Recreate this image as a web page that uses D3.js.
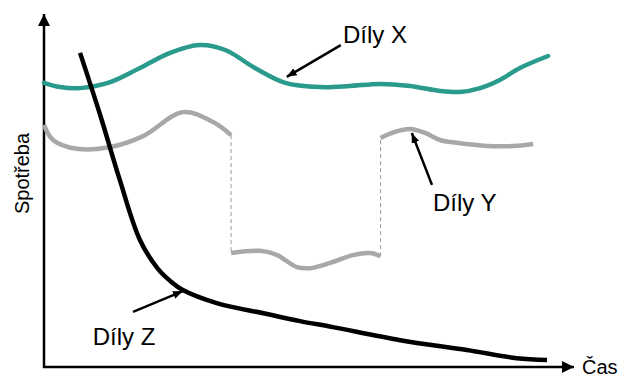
<!DOCTYPE html>
<html>
<head>
<meta charset="utf-8">
<script src="https://cdn.jsdelivr.net/npm/d3@7"></script>
<style>
  body { margin: 0; background: #fff; }
  svg { display: block; font-family: "Liberation Sans", Arial, sans-serif; }
</style>
</head>
<body>
<div id="chart"></div>
<script>
// values, time and consumption in 0-100 units
const dilyX = [[0,80.5],[3,79.3],[6.8,79],[12.5,80.7],[18.1,84.7],[23.8,89],[29.4,91.2],[34.2,89.8],[39.8,84.7],[45.5,80.5],[52.1,79.3],[57.7,79.6],[63.4,80.2],[69.1,79.6],[74.7,78.2],[78.5,77.9],[82.3,79],[86,81.3],[89.8,84.7],[95.1,88.1]]
const dilyY1 = [[0,68.6],[1.7,64.3],[6.2,61.8],[12.5,62.3],[18.7,65.4],[26.2,72.2],[31.9,69.4],[35.3,65.7]]
const dilyY2 = [[35.3,32.3],[40.8,32.9],[44,31.7],[47.7,28.3],[50.2,28],[54,29.5],[58.3,31.7],[61.5,32.3],[63.5,31.4]]
const dilyY3 = [[63.5,64.9],[66.2,66.6],[69.1,67.4],[71.9,66.3],[74.7,64.3],[77.9,63.5],[83.6,62.6],[88.5,62.6],[92.3,63.2]]
const dilyZ = [[6.8,89],[10.6,71.4],[14.3,53],[18.1,36],[21.5,27.8],[23.8,24.4],[26.2,21.8],[32.6,18.1],[42.1,15],[48.3,13],[54.5,11.3],[67.2,7.6],[79.8,4.8],[89.2,2.5],[94.9,2]]
const labels = ["Díly X", "Díly Y", "Díly Z"]
const labelPos = [[56.4,91.8],[73.4,44.2],[9.2,6.2]]
const pointerFrom = [[56,91.2],[73.2,51.6],[16.8,15.6]]
const pointerTo = [[45.8,82.2],[69.4,66.3],[26.2,21.5]]

const width = 624
const height = 378
const svg = d3.select("#chart").append("svg")
    .attr("width", width)
    .attr("height", height)

const x = d3.scaleLinear().domain([0,100]).range([44,574])
const y = d3.scaleLinear().domain([0,100]).range([367,14])

const defs = svg.append("defs")
defs.append("marker")
    .attr("id","axisArrow")
    .attr("viewBox","0 0 12 12")
    .attr("refX",12).attr("refY",6)
    .attr("markerWidth",12).attr("markerHeight",12)
    .attr("markerUnits","userSpaceOnUse")
    .attr("orient","auto")
    .append("path").attr("d","M0,0L12,6L0,12Z").attr("fill","#000")
defs.append("marker")
    .attr("id","ptrArrow")
    .attr("viewBox","0 0 10 8")
    .attr("refX",10).attr("refY",4)
    .attr("markerWidth",10).attr("markerHeight",8)
    .attr("markerUnits","userSpaceOnUse")
    .attr("orient","auto")
    .append("path").attr("d","M0,0L10,4L0,8Z").attr("fill","#000")

const line = d3.line().x(d=>x(d[0])).y(d=>y(d[1])).curve(d3.curveCatmullRom.alpha(0.5))

// axes
svg.append("line")
    .attr("x1",x(0)).attr("y1",y(0)+1)
    .attr("x2",x(0)).attr("y2",y(100))
    .attr("stroke","#000").attr("stroke-width",2.5)
    .attr("marker-end","url(#axisArrow)")
svg.append("line")
    .attr("x1",x(0)-1).attr("y1",y(0))
    .attr("x2",x(100)).attr("y2",y(0))
    .attr("stroke","#000").attr("stroke-width",2.5)
    .attr("marker-end","url(#axisArrow)")

svg.append("text")
    .attr("transform",`translate(29,${(y(0)+y(100))/2 - 17}) rotate(-90)`)
    .attr("text-anchor","middle")
    .style("font-size","20px")
    .text("Spotřeba")
svg.append("text")
    .attr("x",x(100)+8).attr("y",374)
    .style("font-size","20px")
    .text("Čas")

// dashed connectors of Díly Y
svg.selectAll(".gap")
    .data([[dilyY1[dilyY1.length-1], dilyY2[0]], [dilyY2[dilyY2.length-1], dilyY3[0]]])
    .join("line")
    .attr("x1",d=>x(d[0][0])).attr("y1",d=>y(d[0][1]))
    .attr("x2",d=>x(d[1][0])).attr("y2",d=>y(d[1][1]))
    .attr("stroke","#9a9a9a").attr("stroke-width",1)
    .attr("stroke-dasharray","4,3")

svg.selectAll(".grey")
    .data([dilyY1, dilyY2, dilyY3])
    .join("path")
    .attr("fill","none")
    .attr("stroke","#a8a8a8")
    .attr("stroke-width",4.5)
    .attr("d",line)

svg.append("path")
    .datum(dilyX)
    .attr("fill","none")
    .attr("stroke","#2a9a8c")
    .attr("stroke-width",4.5)
    .attr("stroke-linecap","round")
    .attr("d",line)

svg.append("path")
    .datum(dilyZ)
    .attr("fill","none")
    .attr("stroke","#000")
    .attr("stroke-width",4.5)
    .attr("d",line)

// annotations
svg.selectAll(".ptr")
    .data(pointerFrom)
    .join("line")
    .attr("x1",d=>x(d[0])).attr("y1",d=>y(d[1]))
    .attr("x2",(d,i)=>x(pointerTo[i][0])).attr("y2",(d,i)=>y(pointerTo[i][1]))
    .attr("stroke","#000").attr("stroke-width",2.5)
    .attr("marker-end","url(#ptrArrow)")

svg.selectAll(".lbl")
    .data(labels)
    .join("text")
    .attr("x",(d,i)=>x(labelPos[i][0]))
    .attr("y",(d,i)=>y(labelPos[i][1]))
    .style("font-size","24px")
    .text(d=>d)
</script>
</body>
</html>
